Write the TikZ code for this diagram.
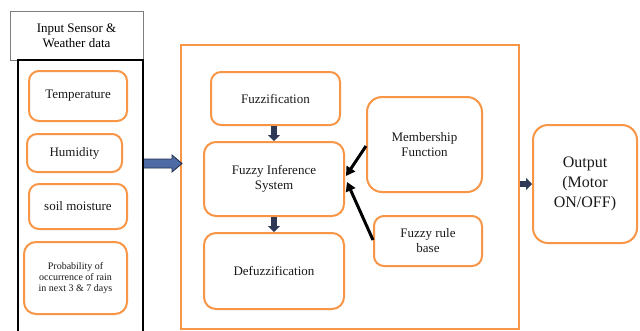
\documentclass[tikz,border=0pt]{standalone}
\usepackage{fontspec}
\setmainfont{Liberation Serif}
\usetikzlibrary{arrows.meta,calc}
\definecolor{orng}{HTML}{F79646}
\definecolor{navy}{HTML}{2E3A55}
\definecolor{bigfill}{HTML}{4E6BA6}
\definecolor{bigline}{HTML}{25314D}
\definecolor{hdrgray}{HTML}{7F7F7F}
\begin{document}
\begin{tikzpicture}[x=1pt,y=-1pt,
  obox/.style={draw=orng, line width=2pt, rounded corners=10pt, align=center,
    font=\fontsize{13}{15}\selectfont, inner sep=2pt, text=black!90},
  navyarrow/.style={draw=navy, line width=5.5pt, -{Triangle[width=12pt,length=6pt]}},
  blackarrow/.style={draw=black, line width=3pt, -{Triangle[width=10pt,length=9pt]}}
]
\useasboundingbox (0,0) rectangle (640,330);
\fill[white] (0,0) rectangle (640,330);
\begin{scope}
\clip (0,0) rectangle (640,330);
% left column
\node[draw=hdrgray, line width=0.8pt, minimum width=133pt, minimum height=49pt, align=center,
  font=\fontsize{13}{15}\selectfont, inner sep=0pt] (hdr) at (76.5,35.5) {Input Sensor \&\\Weather data};
\node[draw=black, line width=2pt, minimum width=125pt, minimum height=290pt, inner sep=0pt] (col) at (80.5,205) {};
\node[obox, minimum width=98pt, minimum height=50pt] (temp) at (78,96) {Temperature};
\node[obox, minimum width=95pt, minimum height=38pt] (hum) at (74.5,153) {Humidity};
\node[obox, minimum width=98pt, minimum height=45pt] (soil) at (78,206.5) {soil moisture};
\node[obox, minimum width=103pt, minimum height=72pt, rounded corners=12pt,
  font=\fontsize{10}{11.3}\selectfont] (prob) at (75.5,278) {Probability of\\occurrence of rain\\in next 3 \& 7 days};
% middle block
\node[draw=orng, line width=2pt, minimum width=338pt, minimum height=284pt, inner sep=0pt] (big) at (350,187) {};
\node[obox, minimum width=129pt, minimum height=53pt] (fuzz) at (275.5,98.5) {Fuzzification};
\node[obox, minimum width=140pt, minimum height=74pt, rounded corners=12pt] (fis) at (274,179) {Fuzzy Inference\\System};
\node[obox, minimum width=140pt, minimum height=76pt, rounded corners=12pt] (defuzz) at (274,271) {Defuzzification};
\node[obox, minimum width=115pt, minimum height=95pt, rounded corners=15pt] (mem) at (424.5,144.5) {Membership\\Function};
\node[obox, minimum width=108pt, minimum height=50pt] (rule) at (428,241) {Fuzzy rule\\base};
% output
\node[obox, minimum width=104pt, minimum height=118pt, rounded corners=15pt,
  font=\fontsize{16}{20}\selectfont] (out) at (585,184) {Output\\(Motor\\ON/OFF)};
% connectors
\draw[navyarrow] (fuzz.south -| fis.north) -- (fis.north);
\draw[navyarrow] (fis.south) -- (defuzz.north);
\draw[blackarrow] ($(mem.west)+(0,1.5)$) -- ($(fis.east)+(1,-3)$);
\draw[blackarrow] ($(rule.west)+(0,-1)$) -- ($(fis.east)+(2,3)$);
\draw[navyarrow] (out.west -| big.east) -- (out.west);
% big input arrow
\coordinate (bt) at (col.east |- 0,163.5);
\coordinate (bh) at (big.west |- 0,163.5);
\draw[draw=bigline, fill=bigfill, line width=0.9pt, line join=miter]
  ($(bt)+(0,-4.5)$) -- ($(bh)+(-8,-4.5)$) -- ($(bh)+(-8,-8.5)$) -- ($(bh)+(2,0)$)
  -- ($(bh)+(-8,8.5)$) -- ($(bh)+(-8,4.5)$) -- ($(bt)+(0,4.5)$);
\end{scope}
\end{tikzpicture}
\end{document}
